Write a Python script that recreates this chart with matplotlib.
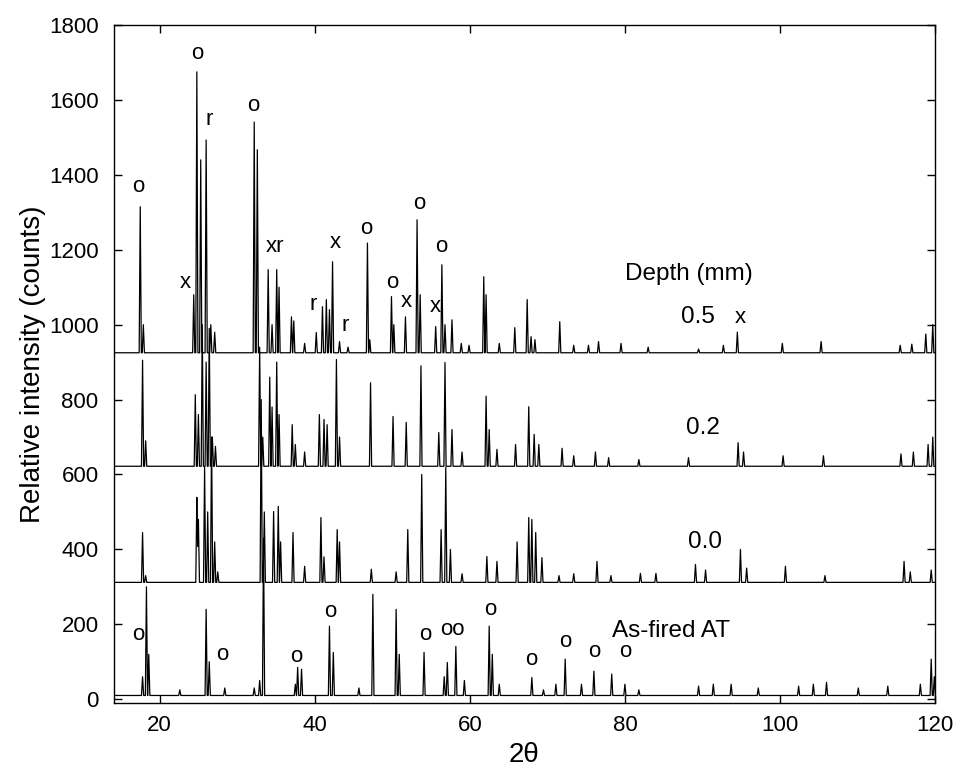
import numpy as np
import matplotlib.pyplot as plt

plt.rcParams['font.family'] = ['Liberation Sans', 'DejaVu Sans']

# peak positions (2theta) and peak tops (counts), per depth
base_05 = 925
pos_05 = [17.5, 17.9, 24.4, 24.8, 25.3, 26.0, 26.6, 27.1, 32.2, 32.6, 34.0, 34.5, 35.1, 35.4,
          37.0, 37.3, 38.7, 40.2, 41.0, 41.5, 41.9, 42.3, 43.2, 44.3, 46.8, 47.1, 49.9, 50.2,
          51.7, 53.2, 53.6, 55.6, 56.4, 56.8, 57.7, 58.9, 59.9, 61.8, 62.1, 63.8, 65.8, 67.4,
          67.9, 68.4, 71.6, 73.4, 75.3, 76.6, 79.5, 83.0, 89.5, 92.7, 94.5, 100.3, 105.3,
          115.5, 117.0, 118.8, 119.7]
top_05 = [1315, 1000, 1080, 1675, 1440, 1493, 1000, 980, 1541, 1467, 1147, 1000, 1147, 1100,
          1021, 1010, 950, 979, 1048, 1067, 1040, 1168, 955, 940, 1218, 960, 1075, 1000,
          1021, 1280, 1080, 995, 1160, 1000, 1013, 950, 945, 1128, 1080, 950, 992, 1067,
          968, 960, 1008, 945, 945, 955, 950, 940, 935, 945, 980, 950, 955,
          945, 948, 975, 1000]

base_02 = 622
pos_02 = [17.8, 18.2, 24.6, 25.0, 25.5, 26.0, 26.4, 26.8, 27.2, 32.9, 33.3, 34.2, 34.5, 35.1,
          35.4, 37.1, 37.5, 38.7, 40.6, 41.2, 41.6, 42.8, 43.2, 47.2, 50.1, 51.8, 53.7, 56.0,
          56.8, 57.7, 59.0, 62.1, 62.5, 63.5, 65.9, 67.6, 68.3, 68.9, 71.9, 73.4, 76.2, 77.9,
          81.8, 88.2, 94.6, 95.3, 100.4, 105.6, 115.6, 117.2, 119.1, 119.7]
top_02 = [905, 690, 813, 760, 1000, 900, 990, 700, 675, 940, 700, 860, 780, 900,
          760, 733, 680, 660, 760, 747, 733, 907, 700, 845, 755, 739, 890, 712,
          899, 720, 660, 809, 720, 667, 680, 781, 707, 680, 670, 650, 660, 645,
          640, 645, 685, 660, 650, 650, 655, 660, 680, 700]

base_00 = 312
pos_00 = [17.8, 18.2, 24.8, 25.0, 25.8, 26.2, 26.7, 27.1, 27.5, 33.1, 33.5, 34.7, 35.3, 35.6,
          37.2, 38.7, 40.8, 41.2, 42.9, 43.2, 47.3, 50.5, 52.0, 53.8, 56.3, 56.9, 57.5, 59.0,
          62.2, 63.5, 66.1, 67.6, 68.0, 68.5, 69.3, 71.5, 73.4, 76.4, 78.2, 82.0, 84.0, 89.1,
          90.4, 94.9, 95.7, 100.7, 105.8, 116.0, 116.8, 119.5]
top_00 = [445, 330, 539, 480, 620, 500, 700, 420, 340, 800, 500, 501, 515, 420,
          445, 355, 485, 380, 453, 420, 347, 340, 453, 600, 453, 619, 400, 335,
          381, 368, 420, 485, 480, 445, 378, 330, 335, 368, 330, 336, 336, 360,
          345, 400, 350, 355, 330, 368, 340, 345]

base_af = 10
pos_af = [17.8, 18.3, 18.6, 22.6, 26.0, 26.4, 28.4, 32.2, 32.9, 33.4, 37.5, 37.8, 38.3, 41.9,
          42.4, 45.7, 47.5, 50.5, 50.9, 54.1, 56.7, 57.1, 58.2, 59.3, 62.5, 62.9, 63.8, 68.0,
          69.5, 71.1, 72.3, 74.4, 76.0, 78.3, 80.0, 81.8, 89.5, 91.4, 93.7, 97.2, 102.4,
          104.3, 106.0, 110.1, 113.9, 118.1, 119.5, 119.9]
top_af = [60, 300, 120, 25, 240, 100, 30, 30, 50, 430, 40, 85, 80, 195,
          125, 30, 280, 240, 120, 125, 60, 98, 141, 50, 195, 120, 40, 58,
          25, 40, 107, 40, 75, 67, 40, 25, 35, 40, 40, 30, 35,
          40, 45, 30, 35, 40, 107, 60]

# phase marks: (2theta, counts, symbol)
marks_x = [17.3, 23.3, 24.8, 26.4, 32.1, 34.9, 39.8, 42.7, 43.9, 46.6, 50.0, 51.8, 53.5,
           55.5, 56.3, 94.9,
           17.3, 28.1, 37.6, 42.0, 54.2, 57.8, 62.7, 67.9, 72.3, 76.0, 80.0]
marks_y = [1368, 1112, 1725, 1547, 1584, 1208, 1053, 1219, 997, 1256, 1112, 1061, 1323,
           1048, 1208, 1019,
           173, 120, 115, 235, 173, 187, 240, 107, 155, 128, 128]
marks_s = ['o', 'x', 'o', 'r', 'o', 'xr', 'r', 'x', 'r', 'o', 'o', 'x', 'o',
           'x', 'o', 'x',
           'o', 'o', 'o', 'o', 'o', 'oo', 'o', 'o', 'o', 'o', 'o']

depth_labels = ['0.5', '0.2', '0.0', 'As-fired AT']
depth_x = [89.4, 90.1, 90.3, 86.0]
depth_y = [1021, 723, 421, 181]


def trace(pos, top, base, w=0.14):
    xs = [14.0, 120.0]
    for p in pos:
        xs += [p - w, p, p + w]
    xs = np.array(sorted(xs))
    ys = np.full(len(xs), float(base))
    for p, t in zip(pos, top):
        ys = np.maximum(ys, t - (t - base) * np.abs(xs - p) / w)
    return xs, ys


fig = plt.figure(figsize=(9.65, 7.73), dpi=100)
ax = fig.add_axes([0.118, 0.0906, 0.851, 0.877])

for pos, top, base in [(pos_05, top_05, base_05), (pos_02, top_02, base_02),
                       (pos_00, top_00, base_00), (pos_af, top_af, base_af)]:
    xs, ys = trace(pos, top, base)
    ax.plot(xs, ys, color='black', lw=0.9)

for x, y, s in zip(marks_x, marks_y, marks_s):
    ax.text(x, y, s, fontsize=16, ha='center', va='center')

ax.text(88.3, 1136, 'Depth (mm)', fontsize=17.5, ha='center', va='center')
for s, x, y in zip(depth_labels, depth_x, depth_y):
    ax.text(x, y, s, fontsize=17.5, ha='center', va='center')

ax.set_xlim(14.1, 120)
ax.set_ylim(-10, 1800)
ax.set_xticks(range(20, 121, 20))
ax.set_yticks(range(0, 1801, 200))
ax.tick_params(direction='in', length=6, width=1, top=True, right=True, labelsize=16)
ax.tick_params(axis='x', pad=9)
ax.tick_params(axis='y', pad=11)
for sp in ax.spines.values():
    sp.set_linewidth(1)
ax.set_xlabel('2θ', fontsize=20, labelpad=4)
ax.set_ylabel('Relative intensity (counts)', fontsize=20, labelpad=2)

fig.savefig('out.png', dpi=100)
